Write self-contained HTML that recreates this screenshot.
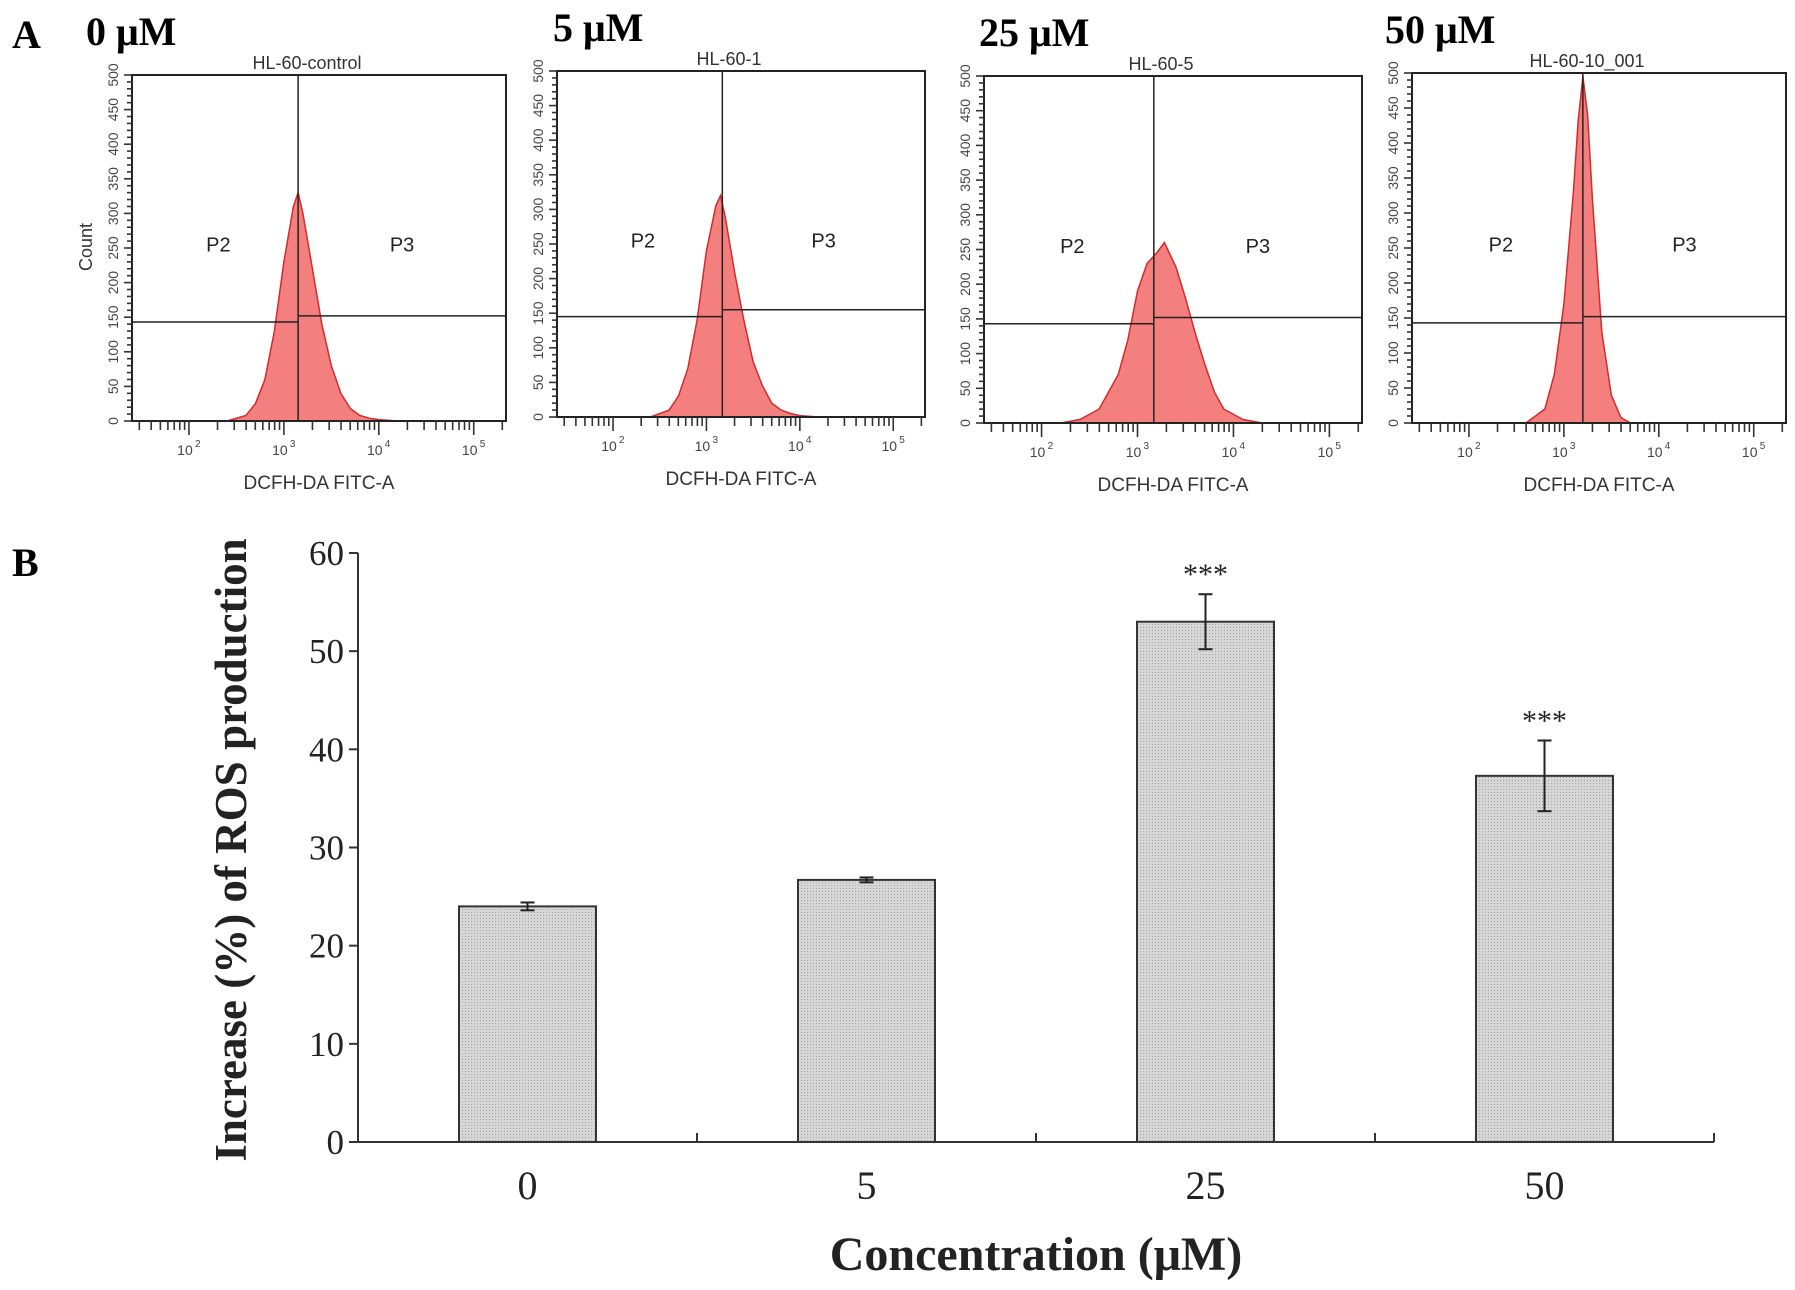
<!DOCTYPE html>
<html><head><meta charset="utf-8"><style>
html,body{margin:0;padding:0;background:#fff}
svg{display:block}
</style></head><body>
<svg id="fig" width="1795" height="1290" viewBox="0 0 1795 1290" xmlns="http://www.w3.org/2000/svg">
<text x="12" y="48" font-family="Liberation Serif, serif" font-weight="bold" font-size="40">A</text>
<text x="12" y="576" font-family="Liberation Serif, serif" font-weight="bold" font-size="40">B</text>
<g id="flow"></g>
<g id="bars"></g>
</svg>
<script>
// ---------- Panel A data ----------
const flowTitles = ["0 μM","5 μM","25 μM","50 μM"];
const flowSubtitles = ["HL-60-control","HL-60-1","HL-60-5","HL-60-10_001"];
const hist0Log = [2.4,2.6,2.7,2.8,2.9,3.0,3.1,3.15,3.2,3.3,3.4,3.5,3.6,3.7,3.8,3.9,4.0,4.2];
const hist0Count = [0,8,25,60,130,230,310,330,300,220,140,80,40,18,8,4,2,0];
const hist1Log = [2.4,2.6,2.7,2.8,2.9,3.0,3.1,3.15,3.2,3.3,3.4,3.5,3.6,3.7,3.8,3.9,4.0,4.2];
const hist1Count = [0,10,30,70,140,240,305,320,290,210,140,80,45,20,10,5,2,0];
const hist2Log = [2.2,2.4,2.6,2.8,2.9,3.0,3.1,3.2,3.28,3.4,3.5,3.6,3.7,3.8,3.9,4.1,4.3];
const hist2Count = [0,5,20,70,120,190,230,245,260,225,180,130,85,45,20,5,0];
const hist3Log = [2.6,2.8,2.9,3.0,3.1,3.15,3.2,3.25,3.3,3.4,3.5,3.6,3.7];
const hist3Count = [0,20,70,170,330,430,495,440,320,130,40,8,0];
const gateLog = [3.15,3.17,3.17,3.2];
const gateLeftCount = [143,145,143,143];
const gateRightCount = [152,155,152,152];
const countTicks = [0,50,100,150,200,250,300,350,400,450,500];
const decadeTicks = [2,3,4,5];

// ---------- Panel B data ----------
const categories = ["0","5","25","50"];
const values = [24.0,26.7,53.0,37.3];
const errors = [0.4,0.25,2.8,3.6];
const signif = ["","","***","***"];
const yTicks = [0,10,20,30,40,50,60];

const NS="http://www.w3.org/2000/svg";
function mk(tag, attrs, parent, txt){
  const e=document.createElementNS(NS,tag);
  for(const k in attrs) e.setAttribute(k,attrs[k]);
  if(txt!==undefined) e.textContent=txt;
  parent.appendChild(e); return e;
}
const hLogs=[hist0Log,hist1Log,hist2Log,hist3Log];
const hCounts=[hist0Count,hist1Count,hist2Count,hist3Count];
const boxes=[{l:132,r:506,t:75,b:421,tx:86},{l:557,r:925,t:71,b:417,tx:553},{l:984,r:1362,t:76,b:423,tx:979},{l:1412,r:1786,t:73,b:423,tx:1385}];
const flow=document.getElementById('flow');
const LOGMIN=1.40, LOGMAX=5.34;
boxes.forEach((B,i)=>{
  const g=mk('g',{},flow);
  
  
  const xs=v=>B.l+(v-LOGMIN)/(LOGMAX-LOGMIN)*(B.r-B.l);
  const ys=c=>B.b-c/500*(B.b-B.t);
  const t=mk('text',{x:B.tx,y:B.t-30,'font-family':'Liberation Serif, serif','font-weight':'bold','font-size':'40'},g,flowTitles[i]);
  
  
  const st=mk('text',{x:(B.l+B.r)/2-12,y:B.t-6,'text-anchor':'middle','font-family':'Liberation Sans, sans-serif','font-size':'18',fill:'#333'},g,flowSubtitles[i]);
  
  
  let d='M'+xs(hLogs[i][0])+','+ys(0);
  hLogs[i].forEach((v,j)=>{d+=' L'+xs(v).toFixed(1)+','+ys(hCounts[i][j]).toFixed(1);});
  d+=' Z';
  const p=mk('path',{d:d,fill:'#f47f7f',stroke:'#d52a2a','stroke-width':'1.5'},g);
  
  
  const fr=mk('rect',{x:B.l,y:B.t,width:B.r-B.l,height:B.b-B.t,fill:'none',stroke:'#222','stroke-width':'2'},g);
  
  
  const gx=xs(gateLog[i]);
  const gl=mk('line',{x1:gx,x2:gx,y1:B.t,y2:B.b,stroke:'#222','stroke-width':'1.5'},g);
  
  
  mk('line',{x1:B.l,x2:gx,y1:ys(gateLeftCount[i]),y2:ys(gateLeftCount[i]),stroke:'#222','stroke-width':'1.5'},g);
  mk('line',{x1:gx,x2:B.r,y1:ys(gateRightCount[i]),y2:ys(gateRightCount[i]),stroke:'#222','stroke-width':'1.5'},g);
  const p2=mk('text',{x:B.l+(gx-B.l)*0.52,y:ys(245),'text-anchor':'middle','font-family':'Liberation Sans, sans-serif','font-size':'20',fill:'#222'},g,'P2');
  
  
  const p3=mk('text',{x:gx+(B.r-gx)*0.5,y:ys(245),'text-anchor':'middle','font-family':'Liberation Sans, sans-serif','font-size':'20',fill:'#222'},g,'P3');
  
  
  for(let c=0;c<=500;c+=10){
    const len=(c%50===0)?8:5;
    mk('line',{x1:B.l-len,x2:B.l,y1:ys(c),y2:ys(c),stroke:'#333','stroke-width':'1.6'},g);
  }
  countTicks.forEach(c=>{
    const tt=mk('text',{transform:`translate(${B.l-14},${ys(c)}) rotate(-90)`,'text-anchor':'middle','font-family':'Liberation Sans, sans-serif','font-size':'14',fill:'#444'},g,String(c));
    
    
  });
  for(let dcd=1;dcd<=5;dcd++){
    for(let m=1;m<=9;m++){
      const lv=dcd+Math.log10(m);
      if(lv<LOGMIN||lv>LOGMAX) continue;
      const len=m===1?14:9;
      mk('line',{x1:xs(lv),x2:xs(lv),y1:B.b,y2:B.b+len,stroke:'#333','stroke-width':'1.6'},g);
    }
  }
  decadeTicks.forEach(dv=>{
    const tx=mk('text',{x:xs(dv)-4,y:B.b+34,'text-anchor':'middle','font-family':'Liberation Sans, sans-serif','font-size':'14',fill:'#444'},g,'10');
    
    
    mk('text',{x:xs(dv)+6,y:B.b+26,'font-family':'Liberation Sans, sans-serif','font-size':'10',fill:'#444'},g,String(dv));
  });
  const xl=mk('text',{x:(B.l+B.r)/2,y:B.b+68,'text-anchor':'middle','font-family':'Liberation Sans, sans-serif','font-size':'19',fill:'#333'},g,'DCFH-DA FITC-A');
  
  
  if(i===0){
    const yl=mk('text',{transform:`translate(92,${B.t+172}) rotate(-90)`,'text-anchor':'middle','font-family':'Liberation Sans, sans-serif','font-size':'18',fill:'#333'},g,'Count');
    
    
  }
});

// ---------- Panel B ----------
const bars=document.getElementById('bars');
const X0=358, X1=1714, Y0=1142, YTOP=553, BW=137;
const defs=mk('defs',{},bars);
const pat=mk('pattern',{id:'dots',width:'3',height:'3',patternUnits:'userSpaceOnUse'},defs);
mk('rect',{width:3,height:3,fill:'#d6d6d6'},pat);
mk('rect',{width:1,height:1,fill:'#a8a8a8'},pat);
const yS=v=>Y0-v/60*(Y0-YTOP);
const step=(X1-X0)/categories.length;
const xC=i=>X0+step*(i+0.5);
categories.forEach((c,i)=>{
  const r=mk('rect',{x:xC(i)-BW/2,y:yS(values[i]),width:BW,height:Y0-yS(values[i]),fill:'url(#dots)',stroke:'#333','stroke-width':'2'},bars);
  
  
  const eg=mk('g',{stroke:'#222','stroke-width':'2'},bars);
  
  
  const yt=yS(values[i]+errors[i]), yb=yS(values[i]-errors[i]);
  mk('line',{x1:xC(i),x2:xC(i),y1:yt,y2:yb},eg);
  mk('line',{x1:xC(i)-7,x2:xC(i)+7,y1:yt,y2:yt},eg);
  mk('line',{x1:xC(i)-7,x2:xC(i)+7,y1:yb,y2:yb},eg);
  if(signif[i]){
    const s=mk('text',{x:xC(i),y:yt-10,'text-anchor':'middle','font-family':'Liberation Serif, serif','font-size':'30',fill:'#222'},bars,signif[i]);
    
    
  }
  const tl=mk('text',{x:xC(i),y:Y0+57,'text-anchor':'middle','font-family':'Liberation Serif, serif','font-size':'40',fill:'#222'},bars,c);
  
  
});
const ax=mk('g',{stroke:'#333','stroke-width':'2'},bars);


mk('line',{x1:X0,x2:X0,y1:YTOP,y2:Y0},ax);
mk('line',{x1:X0,x2:X1,y1:Y0,y2:Y0},ax);
for(let k=1;k<=categories.length;k++){
  mk('line',{x1:X0+step*k,x2:X0+step*k,y1:Y0,y2:Y0-9},ax);
}
yTicks.forEach(v=>{
  mk('line',{x1:X0-9,x2:X0,y1:yS(v),y2:yS(v)},ax);
  const t=mk('text',{x:X0-14,y:yS(v)+12,'text-anchor':'end','font-family':'Liberation Serif, serif','font-size':'35',fill:'#222'},bars,String(v));
  
  
});
const yt=mk('text',{transform:'translate(246,850) rotate(-90)','text-anchor':'middle','font-family':'Liberation Serif, serif','font-weight':'bold','font-size':'45',fill:'#222'},bars,'Increase (%) of ROS production');


const xt=mk('text',{x:1036,y:1270,'text-anchor':'middle','font-family':'Liberation Serif, serif','font-weight':'bold','font-size':'48',fill:'#222'},bars,'Concentration (μM)');


</script>
</body></html>
